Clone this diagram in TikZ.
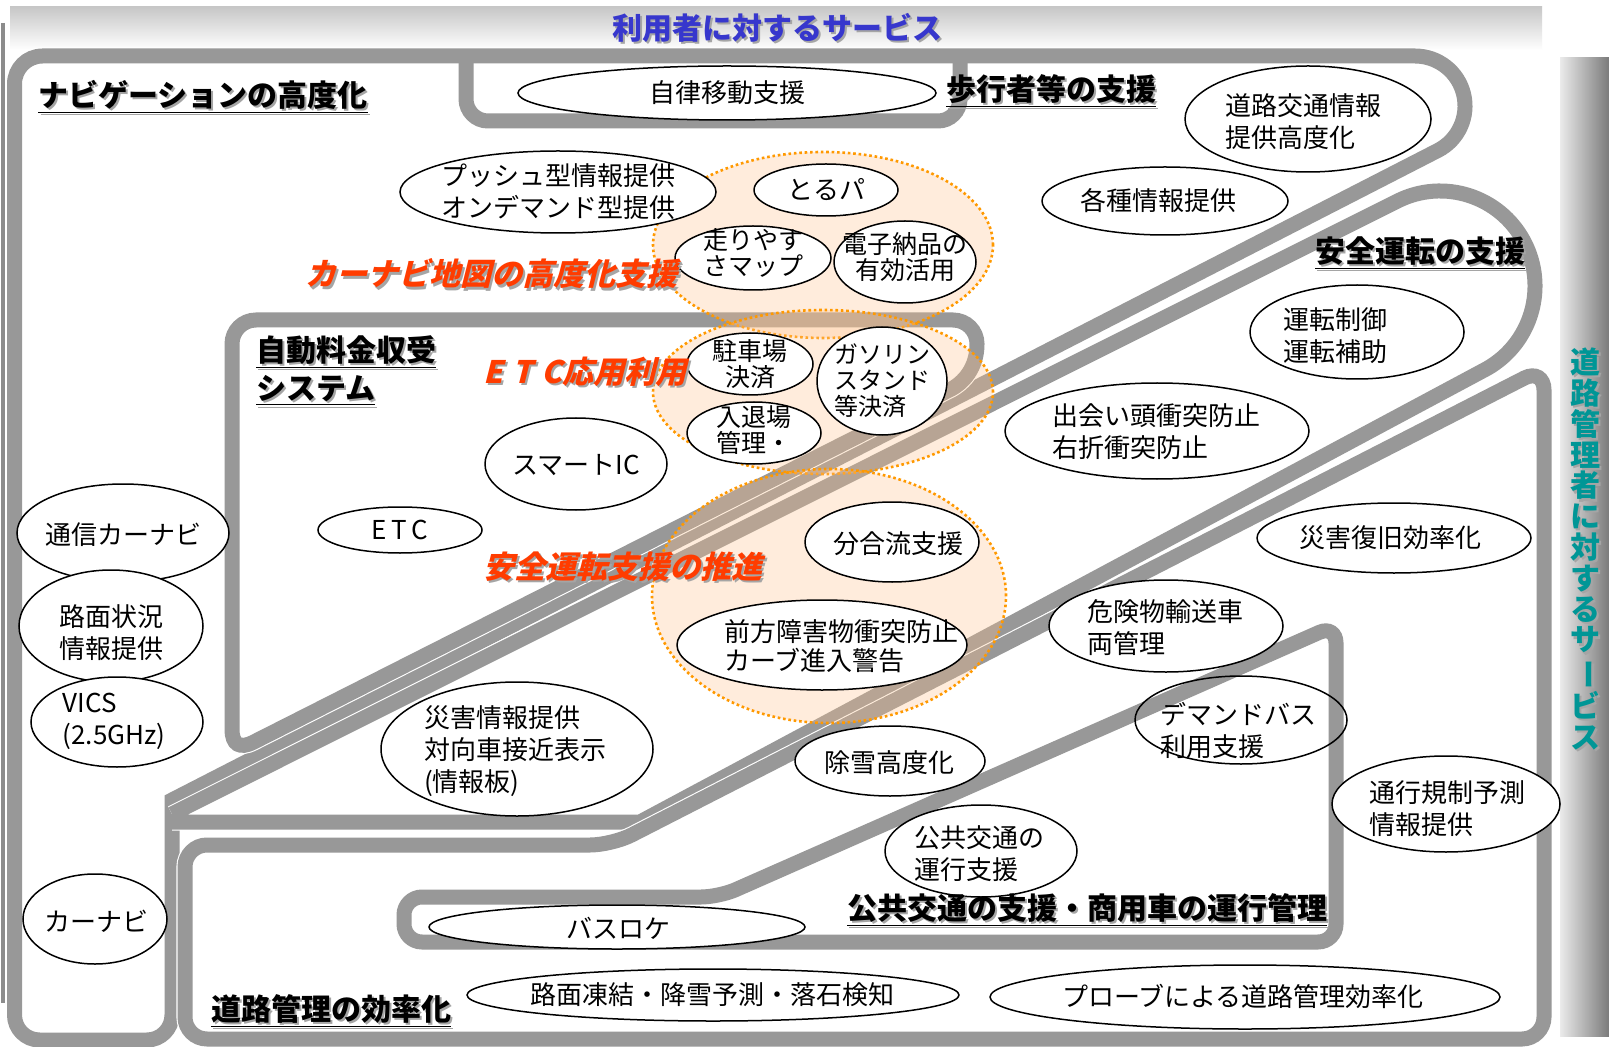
\documentclass[tikz,border=0pt]{standalone}
\usepackage{fontspec}
\setmainfont{Noto Sans CJK JP}
\newfontfamily\slantfont[FakeSlant=0.25]{Noto Sans CJK JP}
\usetikzlibrary{shapes.geometric}
\definecolor{bandc}{RGB}{152,152,152}
\definecolor{peachc}{RGB}{255,195,140}
\definecolor{dotc}{RGB}{255,153,0}
\definecolor{redc}{RGB}{255,60,0}
\definecolor{bluec}{RGB}{55,55,205}
\definecolor{tealc}{RGB}{0,150,150}
\definecolor{shadowc}{RGB}{165,165,165}
\newcommand{\shtxt}[2]{\makebox[0pt][l]{\hspace{1.1pt}\raisebox{-1.1pt}{\textcolor{shadowc}{#2}}}\textcolor{#1}{#2}}
\newcommand{\vtxt}{道\\路\\管\\理\\者\\に\\対\\す\\る\\サ\\\rotatebox[origin=c]{-90}{ー}\\ビ\\ス}
\begin{document}
\begin{tikzpicture}[x=0.5pt, y=-0.5pt,
  bandline/.style={draw=bandc, line width=7.5pt, preaction={draw=white, line width=8.6pt}},
  bandplain/.style={draw=bandc, line width=7.5pt},
  ell/.style={ellipse, draw=black, line width=0.75pt, fill=white, inner sep=0pt},
  ellfill/.style={ellipse, fill=white, inner sep=0pt},
  elldraw/.style={ellipse, draw=black, line width=0.75pt, inner sep=0pt},
  txt/.style={inner sep=0pt, align=left, font=\fontsize{13}{16}\selectfont},
  ctxt/.style={inner sep=0pt, align=center, font=\fontsize{12.5}{13.3}\selectfont},
  head/.style={inner sep=0pt, font=\bfseries\fontsize{15}{19}\selectfont},
  redlab/.style={inner sep=0pt, font=\slantfont\bfseries\fontsize{15.5}{18}\selectfont},
  zone/.style={ellipse, inner sep=0pt, fill=peachc, fill opacity=0.3, draw=dotc, line width=1.3pt, dash pattern=on 1.3pt off 1.4pt}
]
\path[use as bounding box] (0,0) rectangle (1609,1047);
\fill[white] (0,0) rectangle (1609,1047);
% frame decorations
\shade[top color=black!22, bottom color=white] (10,7) rectangle (1542,50);
\shade[left color=black!8, right color=black!52] (1560,58) rectangle (1609,1036);
\draw[black!45, line width=2pt] (2.5,23) -- (2.5,1003);

% ellipse whose fill lies under a band
\node[ellfill, minimum width=106pt, minimum height=44pt] (dmfill) at (1241,720) {};

% bands (roads)
% outer region (navigation / pedestrian loop / car-navi box)
\draw[bandline] (172,800) -- (172,1015) .. controls (172,1028.8) and (160.8,1040) .. (147,1040)
  -- (39.5,1040) .. controls (25.7,1040) and (14.5,1028.8) .. (14.5,1015)
  -- (14.5,84) .. controls (14.5,68.5) and (27,56) .. (42.5,56)
  -- (1415,56) .. controls (1438.07,56) and (1458.15,71.78) .. (1463.59,94.20)
  .. controls (1469.03,116.62) and (1458.43,139.85) .. (1437.93,150.43) -- cycle;
% autonomous-movement box
\draw[bandplain, rounded corners=11pt] (466,56) -- (466,121) -- (960,121) -- (960,56);
% ETC region
\draw[bandline] (232,550) -- (232,344) .. controls (232,330.7) and (242.7,320) .. (256,320)
  -- (953,320) .. controls (966.3,320) and (977,330.7) .. (977,344)
  .. controls (977,368) and (963.4,382.9) .. (950,389.7)
  -- (253.4,742.2) .. controls (240,749) and (232,745) .. (232,729) -- cycle;
% safe-driving loop
\draw[bandline] (172,814) -- (1397.51,201.03) .. controls (1443.56,178.00) and (1499.57,195.84) .. (1523.81,241.27)
  .. controls (1548.05,286.70) and (1531.69,343.17) .. (1486.92,368.60) -- (640,822) -- (172,822);
% road-management region
\draw[bandline, rounded corners=11pt] (185,950) -- (185,845) -- (612,845) -- (1544,368) -- (1544,1039) -- (185,1039) -- cycle;
% public-transport region
\draw[bandline, rounded corners=9pt] (700,942) -- (404,942) -- (404,897) -- (719,897) -- (1336,625) -- (1336,942) -- cycle;

% orange dotted zones
\node[zone, minimum width=170pt, minimum height=93pt] (zoneA) at (823,245) {};
\node[zone, minimum width=170pt, minimum height=82pt] (zoneB) at (823,392) {};
\node[zone, minimum width=177pt, minimum height=127pt] (zoneC) at (829,596) {};

% ellipses
\node[ell, minimum width=209pt, minimum height=27pt] (ejiritsu) at (727,93) {};
\node[ell, minimum width=123pt, minimum height=53pt] (edoro) at (1308,119) {};
\node[ell, minimum width=158pt, minimum height=41pt] (epush) at (558,192) {};
\node[ell, minimum width=72pt, minimum height=26pt] (etorupa) at (826,190) {};
\node[ell, minimum width=123pt, minimum height=34pt] (ekakushu) at (1165,201) {};
\node[ell, minimum width=78pt, minimum height=32pt] (ehashiri) at (753,258) {};
\node[ell, minimum width=71pt, minimum height=41pt] (edenshi) at (905,262) {};
\node[ell, minimum width=107pt, minimum height=47pt] (eunten) at (1357,332) {};
\node[ell, minimum width=63pt, minimum height=31pt] (echusha) at (750,364) {};
\node[ell, minimum width=65pt, minimum height=54pt] (egas) at (882,381) {};
\node[ell, minimum width=67pt, minimum height=31pt] (enyutai) at (754,433) {};
\node[ell, minimum width=152pt, minimum height=48pt] (edeai) at (1157,431) {};
\node[ell, minimum width=91pt, minimum height=46pt] (esmart) at (576,464) {};
\node[ell, minimum width=106pt, minimum height=49pt] (etsushin) at (123,533) {};
\node[ell, minimum width=82pt, minimum height=23pt] (eetc) at (400,530) {};
\node[ell, minimum width=137pt, minimum height=35pt] (efukkyu) at (1394,538) {};
\node[ell, minimum width=87pt, minimum height=40pt] (ebungo) at (892,542) {};
\node[ell, minimum width=92pt, minimum height=56pt] (eromen) at (111,626) {};
\node[ell, minimum width=117pt, minimum height=46pt] (ekiken) at (1166,626) {};
\node[ell, minimum width=145pt, minimum height=45pt] (ezenpo) at (822,645) {};
\node[ell, minimum width=86pt, minimum height=45pt] (evics) at (117,722) {};
\node[ell, minimum width=136pt, minimum height=67pt] (esaigai) at (517,749) {};
\node[ell, minimum width=95pt, minimum height=35pt] (ejosetsu) at (890,761) {};
\node[elldraw, minimum width=106pt, minimum height=44pt] (edemand) at (1241,720) {};
\node[ell, minimum width=114pt, minimum height=48pt] (etsuko) at (1446,804) {};
\node[ell, minimum width=96pt, minimum height=46pt] (ekokyo) at (981,851) {};
\node[ell, minimum width=72pt, minimum height=45pt] (ecarnavi) at (95,919) {};
\node[ell, minimum width=188pt, minimum height=22pt] (ebusloc) at (617,927) {};
\node[ell, minimum width=246pt, minimum height=26pt] (etoketsu) at (713,995) {};
\node[ell, minimum width=255pt, minimum height=32pt] (eprobe) at (1245,997) {};

% ellipse texts
\node[txt] (tjiritsu) at (727,93) {自律移動支援};
\node[txt] (tdoro) at (1303,122) {道路交通情報\\提供高度化};
\node[txt] (tpush) at (558,192) {プッシュ型情報提供\\オンデマンド型提供};
\node[txt] (ttorupa) at (826,190) {とるパ};
\node[txt] (tkakushu) at (1158,201) {各種情報提供};
\node[ctxt] (thashiri) at (753,253) {走りやす\\さマップ};
\node[ctxt] (tdenshi) at (905,257) {電子納品の\\有効活用};
\node[txt] (tunten) at (1335,336) {運転制御\\運転補助};
\node[ctxt, font=\fontsize{12.5}{12.8}\selectfont] (tchusha) at (750,364) {駐車場\\決済};
\node[txt, font=\fontsize{12}{13}\selectfont] (tgas) at (882,381) {ガソリン\\スタンド\\等決済};
\node[ctxt, font=\fontsize{12.5}{12.8}\selectfont] (tnyutai) at (754,430) {入退場\\管理・};
\node[txt] (tdeai) at (1156,432) {出会い頭衝突防止\\右折衝突防止};
\node[txt] (tsmart) at (576,465) {スマートIC};
\node[txt] (ttsushin) at (123,535) {通信カーナビ};
\node[txt] (tetc) at (400,530) {E\,T\,C};
\node[txt] (tfukkyu) at (1390,538) {災害復旧効率化};
\node[txt] (tbungo) at (898,544) {分合流支援};
\node[txt] (tromen) at (111,633) {路面状況\\情報提供};
\node[txt] (tkiken) at (1165,628) {危険物輸送車\\両管理};
\node[txt, font=\fontsize{13}{14.5}\selectfont] (tzenpo) at (841,646) {前方障害物衝突防止\\カーブ進入警告};
\node[txt] (tvics) at (114,721) {VICS\\(2.5GHz)};
\node[txt] (tsaigai) at (515,751) {災害情報提供\\対向車接近表示\\(情報板)};
\node[txt] (tjosetsu) at (889,763) {除雪高度化};
\node[txt] (tdemand) at (1238,731) {デマンドバス\\利用支援};
\node[txt] (ttsuko) at (1447,809) {通行規制予測\\情報提供};
\node[txt] (tkokyo) at (979,854) {公共交通の\\運行支援};
\node[txt] (tcarnavi) at (96,921) {カーナビ};
\node[txt] (tbusloc) at (618,928) {バスロケ};
\node[txt] (ttoketsu) at (712,995) {路面凍結・降雪予測・落石検知};
\node[txt] (tprobe) at (1243,996) {プローブによる道路管理効率化};

% headings
\node[head] (hnavi) at (203,98) {\shtxt{black}{\underline{ナビゲーションの高度化}}};
\node[head] (hhoko) at (1051,92) {\shtxt{black}{\underline{歩行者等の支援}}};
\node[head] (hanzen) at (1420,254) {\shtxt{black}{\underline{安全運転の支援}}};
\node[head, align=left] (hjido) at (346,372) {\shtxt{black}{\underline{自動料金収受}}\\\shtxt{black}{\underline{システム}}};
\node[head] (hkokyo) at (1087,911) {\shtxt{black}{\underline{公共交通の支援・商用車の運行管理}}};
\node[head] (hdoro) at (331,1012) {\shtxt{black}{\underline{道路管理の効率化}}};

% red labels
\node[redlab] (rcarnavi) at (491,275) {\shtxt{redc}{カーナビ地図の高度化支援}};
\node[redlab] (retc) at (585,373) {\shtxt{redc}{E\hspace{0.3em}T\hspace{0.3em}C応用利用}};
\node[redlab] (ranzen) at (623,568) {\shtxt{redc}{安全運転支援の推進}};

% titles
\node[head] (tuser) at (777,29) {\shtxt{bluec}{利用者に対するサービス}};
\node[inner sep=0pt, align=center, font=\bfseries\fontsize{15}{15.4}\selectfont, text=shadowc] (vsh) at (1587.2,551.2) {\vtxt};
\node[inner sep=0pt, align=center, font=\bfseries\fontsize{15}{15.4}\selectfont, text=tealc] (vtitle) at (1585,549) {\vtxt};
\end{tikzpicture}
\end{document}
